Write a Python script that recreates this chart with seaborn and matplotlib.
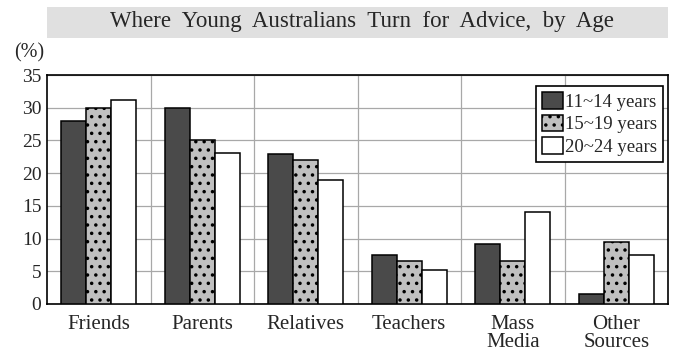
import matplotlib
matplotlib.use("Agg")
import matplotlib.pyplot as plt
import matplotlib.patches as mpatches
import numpy as np
import pandas as pd
import seaborn as sns

# --- data ---
categories = ["Friends", "Parents", "Relatives", "Teachers", "Mass\nMedia", "Other\nSources"]
age_groups = ["11~14 years", "15~19 years", "20~24 years"]
vals_11_14 = [28.0, 30.0, 23.0, 7.5, 9.2, 1.6]
vals_15_19 = [30.0, 25.0, 22.0, 6.5, 6.6, 9.5]
vals_20_24 = [31.2, 23.1, 19.0, 5.2, 14.0, 7.5]
y_ticks = [0, 5, 10, 15, 20, 25, 30, 35]

df = pd.DataFrame({
    "source": categories * 3,
    "age": np.repeat(age_groups, len(categories)),
    "pct": vals_11_14 + vals_15_19 + vals_20_24,
})

sns.set_style("white")
plt.rcParams["font.family"] = ["Liberation Serif", "DejaVu Serif"]
plt.rcParams["hatch.linewidth"] = 1.3

fig = plt.figure(figsize=(6.74, 3.51), dpi=100)
ax = fig.add_axes([47 / 674, 47 / 351, 621 / 674, 229 / 351])

palette = {"11~14 years": "#4a4a4a", "15~19 years": "#c0c0c0", "20~24 years": "#ffffff"}
sns.barplot(data=df, x="source", y="pct", hue="age", order=categories,
            hue_order=age_groups, palette=palette, width=0.72,
            edgecolor="black", linewidth=1.1, saturation=1, ax=ax, zorder=3)

# dotted fill for the middle age group
for bar in ax.containers[1]:
    bar.set_hatch("..")

ax.set_ylim(0, 35)
ax.set_xlim(-0.5, len(categories) - 0.5)
ax.set_yticks(y_ticks)
ax.set_xticks(np.arange(len(categories) - 1) + 0.5, minor=True)
ax.grid(True, axis="y", color="#a8a8a8", linewidth=0.9, zorder=0)
ax.grid(True, axis="x", which="minor", color="#a8a8a8", linewidth=0.9, zorder=0)
ax.grid(False, axis="x", which="major")
ax.set_axisbelow(True)
ax.tick_params(axis="both", which="both", length=0)
ax.tick_params(axis="y", labelsize=14, pad=4)
ax.tick_params(axis="x", labelsize=15, pad=8)
for lbl in ax.get_xticklabels():
    lbl.set_linespacing(0.9)
ax.set_xlabel("")
ax.set_ylabel("")
for s in ax.spines.values():
    s.set_color("black")
    s.set_linewidth(1.2)

ax.legend(ax.containers, age_groups, loc="upper right",
          bbox_to_anchor=(0.992, 0.95), fontsize=13.5, frameon=True,
          fancybox=False, framealpha=1, edgecolor="black",
          handlelength=1.1, handleheight=1.0, handletextpad=0.15,
          labelspacing=0.2, borderpad=0.3, borderaxespad=0)
ax.get_legend().get_frame().set_linewidth(1.2)

# title band
fig.patches.append(mpatches.Rectangle((47 / 674, (351 - 38) / 351), 621 / 674, 31 / 351,
                                      transform=fig.transFigure, facecolor="#e0e0e0",
                                      edgecolor="none", zorder=0))
fig.text(362 / 674, (351 - 22) / 351, "Where  Young  Australians  Turn  for  Advice,  by  Age",
         ha="center", va="center", fontsize=16.5)
fig.text(29 / 674, (351 - 53) / 351, "(%)", ha="center", va="center", fontsize=14.5)

fig.savefig("out.png", dpi=100)
